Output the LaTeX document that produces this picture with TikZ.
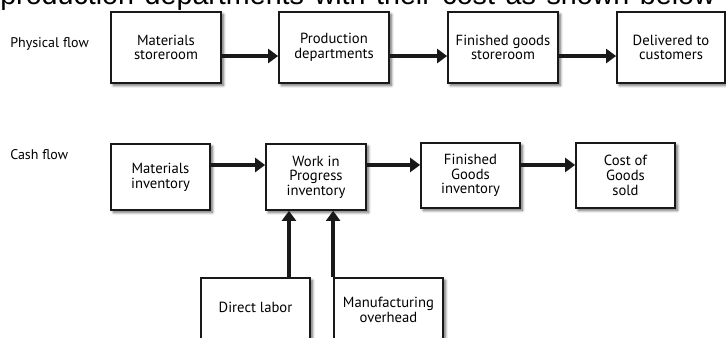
\documentclass[tikz,border=0pt]{standalone}
\usepackage{fontspec}
\setmainfont{PT Sans}
\newfontfamily\headfont{Liberation Sans}
\usetikzlibrary{arrows.meta,shadows.blur}
\begin{document}
\begin{tikzpicture}[x=0.75pt,y=-0.75pt,
  box/.style={draw=black!90, line width=1.3pt, fill=white, align=center,
    font=\fontsize{11}{11}\selectfont, inner sep=0pt,
    blur shadow={shadow xshift=1.8pt, shadow yshift=-1.8pt, shadow blur steps=6, shadow opacity=60}},
  txt/.style={align=center, font=\fontsize{11}{11}\selectfont, inner sep=0pt},
  flow/.style={line width=3pt, draw=black!90, -{Triangle[length=7.5pt,width=10.5pt]}},
  lbl/.style={font=\fontsize{10.5}{12}\selectfont, anchor=west, inner sep=0pt}]
\useasboundingbox (0,0) rectangle (726,338);
% heading (cut off at the top)
\node[anchor=base west, inner sep=0pt, font=\headfont\fontsize{21.5}{24}\selectfont] (hdr) at (0,4.5) {\makebox[536pt][s]{production departments with their cost as shown below}};
% row labels
\node[lbl] (pf) at (10,44) {Physical flow};
\node[lbl] (cf) at (10,155) {Cash flow};
% physical flow
\node[box, minimum width=82.5pt, minimum height=53.25pt] (ms) at (166,47.5) {Materials\\storeroom};
\node[box, minimum width=82.5pt, minimum height=53.25pt] (pd) at (334,47.5) {Production\\departments};
\node[box, minimum width=82.5pt, minimum height=53.25pt] (fg) at (503,47.5) {Finished goods\\storeroom};
\node[box, minimum width=81pt, minimum height=53.25pt] (dc) at (671,47.5) {Delivered to\\customers};
\draw[flow] ([yshift=-6.4pt]ms.east) -- ([yshift=-6.4pt]ms.east -| pd.west);
\draw[flow] ([yshift=-6.4pt]pd.east) -- ([yshift=-6.4pt]pd.east -| fg.west);
\draw[flow] ([yshift=-6.4pt]fg.east) -- ([yshift=-6.4pt]fg.east -| dc.west);
% cash flow
\node[box, minimum width=74.25pt, minimum height=49.5pt] (mi) at (160.5,177) {Materials\\inventory};
\node[box, minimum width=75pt, minimum height=49.5pt] (wip) at (316,177) {Work in\\Progress\\inventory};
\node[box, minimum width=74.25pt, minimum height=48.75pt] (fgi) at (470.5,175.5) {Finished\\Goods\\inventory};
\node[box, minimum width=74.25pt, minimum height=48.75pt] (cgs) at (625.5,175.5) {Cost of\\Goods\\sold};
\draw[flow] ([yshift=9pt]mi.east) -- ([yshift=9pt]mi.east -| wip.west);
\draw[flow] ([yshift=7.9pt]wip.south east |- fgi.east) -- ([yshift=7.9pt]fgi.west);
\draw[flow] ([yshift=7.9pt]fgi.east) -- ([yshift=7.9pt]fgi.east -| cgs.west);
% inputs
\node[box, minimum width=81.75pt, minimum height=51pt] (dl) at (255.5,312) {};
\node[txt] (dlt) at (255.5,307) {Direct labor};
\node[box, minimum width=81.75pt, minimum height=51pt] (mo) at (388.5,312) {};
\node[txt] (mot) at (388.5,310) {Manufacturing\\overhead};
\draw[flow] ([xshift=25.1pt]dl.north) -- ([xshift=25.1pt]dl.north |- wip.south);
\draw[flow] (mo.north west) -- (mo.north west |- wip.south);
\end{tikzpicture}
\end{document}
